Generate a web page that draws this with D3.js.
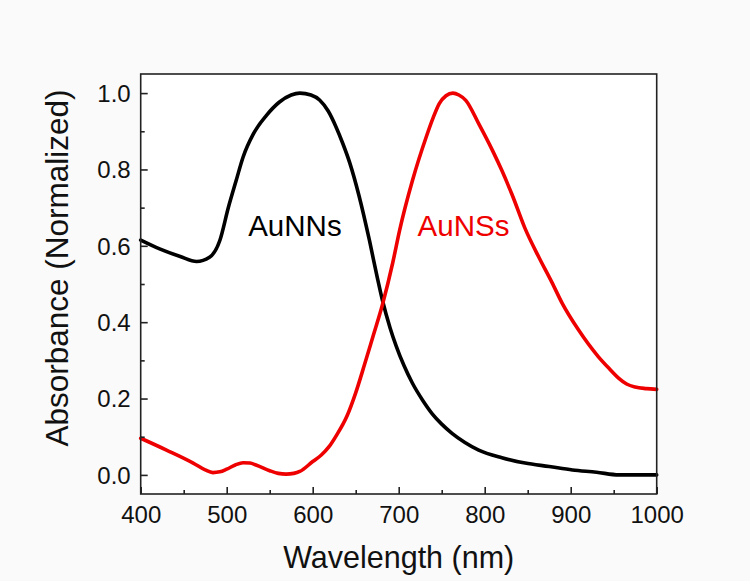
<!DOCTYPE html>
<html>
<head>
<meta charset="utf-8">
<script src="https://cdn.jsdelivr.net/npm/d3@7"></script>
<style>
  html, body { margin: 0; padding: 0; background: #fafafa; }
  svg { display: block; font-family: "Liberation Sans", Arial, sans-serif; }
</style>
</head>
<body>
<svg id="chart" width="750" height="581"></svg>
<script>
// Normalized absorbance spectra of gold nanostructures
const wavelengthNNs = [400, 422, 446, 465, 480, 492, 502, 511, 519, 531, 546, 561, 575, 585, 598, 608, 618, 627, 635, 643, 654, 666, 675, 681, 690, 697, 706, 716, 728, 739, 750, 762, 777, 793, 820, 847, 875, 902, 930, 956, 980, 1000];
const absorbanceNNs = [0.615, 0.592, 0.572, 0.559, 0.570, 0.614, 0.701, 0.771, 0.832, 0.893, 0.941, 0.976, 0.995, 1.000, 0.995, 0.982, 0.953, 0.912, 0.868, 0.818, 0.730, 0.614, 0.518, 0.458, 0.385, 0.338, 0.287, 0.240, 0.195, 0.160, 0.133, 0.109, 0.085, 0.065, 0.045, 0.031, 0.022, 0.013, 0.007, 0.0, 0.0, 0.0];

const wavelengthNSs = [400, 430, 461, 475, 484, 492, 500, 510, 519, 527, 534, 550, 560, 569, 578, 585, 600, 610, 619, 628, 640, 650, 660, 670, 681, 693, 701, 716, 732, 740, 747, 755, 763, 770, 778, 793, 809, 820, 832, 847, 863, 878, 890, 909, 932, 945, 956, 965, 975, 988, 1000];
const absorbanceNSs = [0.096, 0.065, 0.031, 0.013, 0.006, 0.008, 0.015, 0.026, 0.032, 0.031, 0.026, 0.011, 0.004, 0.002, 0.004, 0.009, 0.035, 0.052, 0.074, 0.105, 0.155, 0.215, 0.287, 0.362, 0.445, 0.555, 0.640, 0.771, 0.885, 0.935, 0.972, 0.993, 1.000, 0.995, 0.981, 0.920, 0.850, 0.797, 0.733, 0.645, 0.570, 0.505, 0.450, 0.380, 0.310, 0.278, 0.253, 0.238, 0.230, 0.226, 0.224];

const xTicks = [400, 500, 600, 700, 800, 900, 1000];
const xMinorTicks = [450, 550, 650, 750, 850, 950];
const yTicks = [0.0, 0.2, 0.4, 0.6, 0.8, 1.0];
const yMinorTicks = [0.1, 0.3, 0.5, 0.7, 0.9];

const seriesNames = ["AuNNs", "AuNSs"];
const seriesColors = ["#000000", "#ee0000"];
const labelPos = [[525, 0.626], [722, 0.626]];

const svg = d3.select("#chart");
const m = { left: 140.7, top: 74, right: 656.7, bottom: 494 };

const x = d3.scaleLinear().domain([400, 1000]).range([m.left, m.right]);
const y = d3.scaleLinear().domain([-0.05, 1.05]).range([m.bottom, m.top]);

// plot background
svg.append("rect")
  .attr("x", m.left).attr("y", m.top)
  .attr("width", m.right - m.left).attr("height", m.bottom - m.top)
  .attr("fill", "#ffffff");

// curves
const line = d3.line().x(d => x(d[0])).y(d => y(d[1])).curve(d3.curveMonotoneX);
const series = [
  d3.zip(wavelengthNNs, absorbanceNNs),
  d3.zip(wavelengthNSs, absorbanceNSs)
];
series.forEach((pts, i) => {
  svg.append("path")
    .datum(pts)
    .attr("d", line)
    .attr("fill", "none")
    .attr("stroke", seriesColors[i])
    .attr("stroke-width", 3.6)
    .attr("stroke-linejoin", "round")
    .attr("stroke-linecap", "round");
});

// frame
svg.append("rect")
  .attr("x", m.left).attr("y", m.top)
  .attr("width", m.right - m.left).attr("height", m.bottom - m.top)
  .attr("fill", "none").attr("stroke", "#222").attr("stroke-width", 1.6);

// axes with inward ticks
const xAxis = svg.append("g").attr("transform", `translate(0,${m.bottom})`)
  .call(d3.axisBottom(x).tickValues(xTicks).tickSizeInner(-7).tickSizeOuter(0).tickPadding(0).tickFormat(d3.format("d")));
xAxis.select(".domain").remove();
xAxis.selectAll(".tick line").attr("stroke", "#222").attr("stroke-width", 1.6);
xAxis.selectAll(".tick text")
  .attr("y", 28.5).attr("dy", null)
  .attr("font-size", 24).attr("fill", "#111")
  .attr("font-family", "Liberation Sans, Arial, sans-serif");

const xMinor = svg.append("g").attr("transform", `translate(0,${m.bottom})`)
  .call(d3.axisBottom(x).tickValues(xMinorTicks).tickSizeInner(-4).tickSizeOuter(0).tickFormat(""));
xMinor.select(".domain").remove();
xMinor.selectAll(".tick line").attr("stroke", "#222").attr("stroke-width", 1.6);

const yAxis = svg.append("g").attr("transform", `translate(${m.left},0)`)
  .call(d3.axisLeft(y).tickValues(yTicks).tickSizeInner(-7).tickSizeOuter(0).tickPadding(10).tickFormat(d3.format(".1f")));
yAxis.select(".domain").remove();
yAxis.selectAll(".tick line").attr("stroke", "#222").attr("stroke-width", 1.6);
yAxis.selectAll(".tick text")
  .attr("x", -10).attr("dy", "0.35em")
  .attr("font-size", 24).attr("fill", "#111")
  .attr("font-family", "Liberation Sans, Arial, sans-serif");

const yMinor = svg.append("g").attr("transform", `translate(${m.left},0)`)
  .call(d3.axisLeft(y).tickValues(yMinorTicks).tickSizeInner(-4).tickSizeOuter(0).tickFormat(""));
yMinor.select(".domain").remove();
yMinor.selectAll(".tick line").attr("stroke", "#222").attr("stroke-width", 1.6);

// axis titles
svg.append("text")
  .attr("x", (m.left + m.right) / 2).attr("y", 568)
  .attr("text-anchor", "middle").attr("font-size", 30.5).attr("fill", "#111")
  .text("Wavelength (nm)");

svg.append("text")
  .attr("transform", `translate(68,268) rotate(-90)`)
  .attr("text-anchor", "middle").attr("font-size", 31.5).attr("fill", "#111")
  .text("Absorbance (Normalized)");

// series labels
seriesNames.forEach((name, i) => {
  svg.append("text")
    .attr("x", x(labelPos[i][0])).attr("y", y(labelPos[i][1]))
    .attr("font-size", 29.5).attr("fill", seriesColors[i])
    .text(name);
});
</script>
</body>
</html>
